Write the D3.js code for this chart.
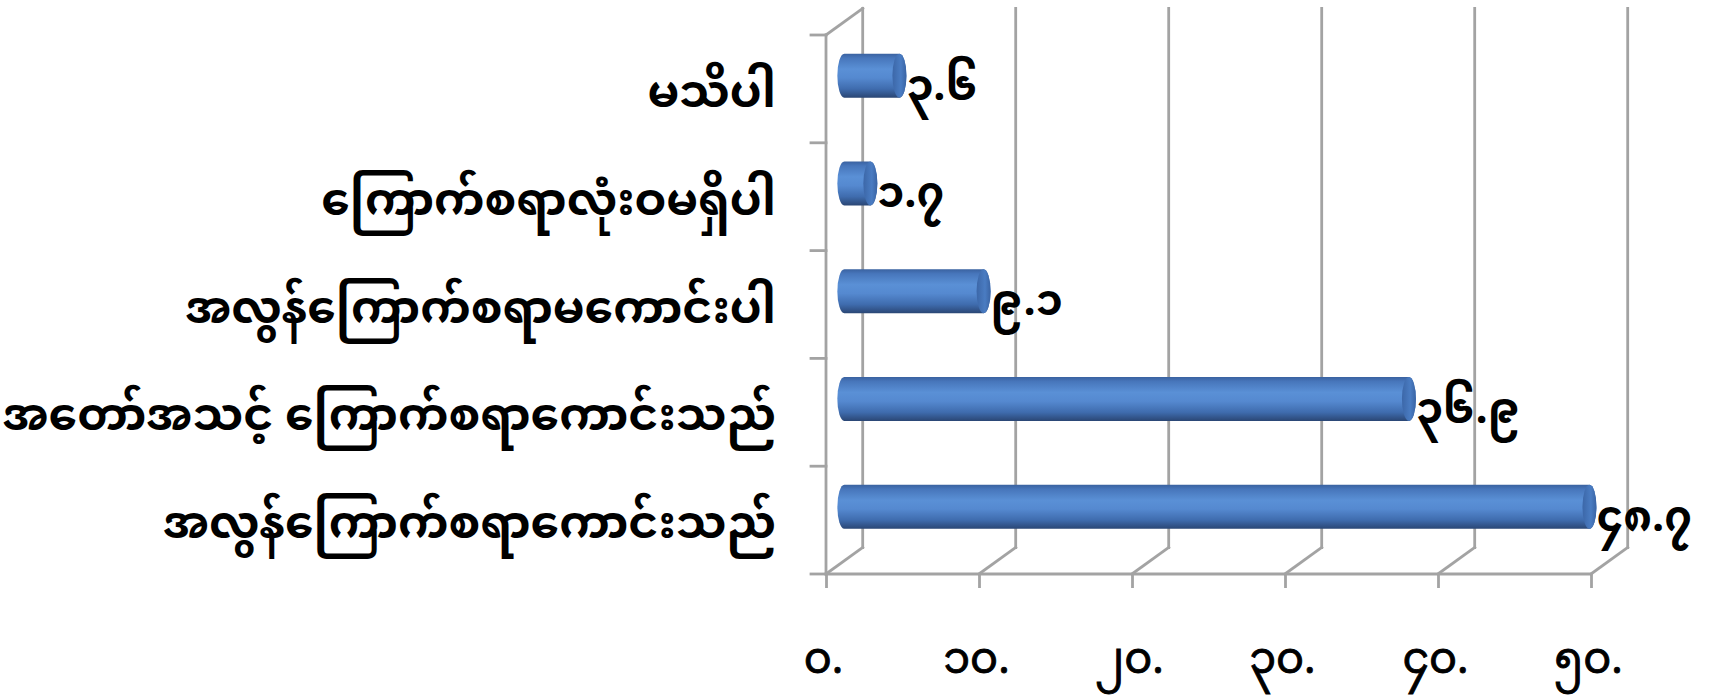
<!DOCTYPE html>
<html>
<head>
<meta charset="utf-8">
<script src="https://cdn.jsdelivr.net/npm/d3@7"></script>
<style>
  html, body { margin: 0; padding: 0; background: #ffffff; }
  svg { display: block; }
  .mm { font-family: "Noto Sans Myanmar", "Padauk", "Myanmar Text", "Myanmar3", "Noto Sans", sans-serif; }
</style>
</head>
<body>
<svg id="chart" width="1712" height="698"></svg>
<script>
// Survey responses (percent), listed top to bottom
const categories = [
  "မသိပါ",
  "ကြောက်စရာလုံးဝမရှိပါ",
  "အလွန်ကြောက်စရာမကောင်းပါ",
  "အတော်အသင့် ကြောက်စရာကောင်းသည်",
  "အလွန်ကြောက်စရာကောင်းသည်"
];
const values = [3.6, 1.7, 9.1, 36.9, 48.7];
const tickValues = [0, 10, 20, 30, 40, 50];

// Burmese digits for labels
const mmDigits = "၀၁၂၃၄၅၆၇၈၉";
const toMM = s => String(s).replace(/[0-9]/g, d => mmDigits[+d]);

const svg = d3.select("#chart");

// Oblique 3D frame: front plane plus a depth offset toward the back wall
const DX = 36.7, DY = -26.5;
const x = d3.scaleLinear().domain([0, 50]).range([826, 1591]);
const y = d3.scaleBand().domain(categories).range([35, 574]).paddingInner(0).paddingOuter(0);
const yTop = 35, yBottom = 574;

const gridColor = "#a3a3a3";
const gridW = 2.8;
const defs = svg.append("defs");

const bodyGrad = defs.append("linearGradient")
  .attr("id", "cylBody").attr("x1", 0).attr("y1", 0).attr("x2", 0).attr("y2", 1);
[["0%", "#3a62a0"], ["10%", "#4776bb"], ["35%", "#5a90d6"], ["55%", "#5589d0"], ["80%", "#3f6cae"], ["100%", "#2a4674"]]
  .forEach(([o, c]) => bodyGrad.append("stop").attr("offset", o).attr("stop-color", c));

const capGrad = defs.append("linearGradient")
  .attr("id", "cylCap").attr("x1", 0).attr("y1", 0).attr("x2", 1).attr("y2", 0);
[["0%", "#3c67a8"], ["60%", "#4a7cc2"], ["100%", "#3a64a4"]]
  .forEach(([o, c]) => capGrad.append("stop").attr("offset", o).attr("stop-color", c));

const frame = svg.append("g")
  .attr("stroke", gridColor).attr("stroke-width", gridW).attr("fill", "none")
  .attr("stroke-linecap", "square");

// Back wall vertical gridlines
frame.selectAll("line.grid").data(tickValues).join("line")
  .attr("class", "grid")
  .attr("x1", d => x(d) + DX).attr("x2", d => x(d) + DX)
  .attr("y1", yTop + DY).attr("y2", yBottom + DY);

// Floor: depth lines and front edge
frame.selectAll("line.floor").data(tickValues).join("line")
  .attr("class", "floor")
  .attr("x1", d => x(d)).attr("y1", yBottom)
  .attr("x2", d => x(d) + DX).attr("y2", yBottom + DY);
frame.append("line")
  .attr("x1", x(0)).attr("x2", x(50)).attr("y1", yBottom).attr("y2", yBottom);

// Left wall: front edge and top edge
frame.append("line")
  .attr("x1", x(0)).attr("x2", x(0)).attr("y1", yTop).attr("y2", yBottom);
frame.append("line")
  .attr("x1", x(0)).attr("y1", yTop).attr("x2", x(0) + DX).attr("y2", yTop + DY);

// Category tick marks at band boundaries
const bounds = categories.map(c => y(c)).concat([y.range()[1]]);
frame.selectAll("line.ctick").data(bounds).join("line")
  .attr("class", "ctick")
  .attr("x1", x(0) - 15).attr("x2", x(0)).attr("y1", d => d).attr("y2", d => d);

// Value axis ticks and labels along the front floor edge
const axis = d3.axisBottom(x)
  .tickValues(tickValues)
  .tickSize(14)
  .tickPadding(54)
  .tickFormat(d => toMM(d) + ".");
const axisG = svg.append("g")
  .attr("transform", `translate(0,${yBottom})`)
  .call(axis);
axisG.select(".domain").remove();
axisG.selectAll(".tick line").attr("stroke", gridColor).attr("stroke-width", gridW);
axisG.selectAll(".tick text")
  .attr("class", "mm")
  .attr("font-size", 43)
  .attr("fill", "#000")
  .attr("stroke", "#000")
  .attr("stroke-width", 0.9)
  .attr("dx", -3);

// Cylinders at mid depth
const barH = 44, capRx = 7;
const bars = svg.append("g");
const rows = categories.map((c, i) => ({ c, v: values[i] }));
const cy = d => y(d.c) + y.bandwidth() / 2 + DY / 2;
const x0 = x(0) + DX / 2;
const x1 = d => x(d.v) + DX / 2;

bars.selectAll("path.body").data(rows).join("path")
  .attr("class", "body")
  .attr("fill", "url(#cylBody)")
  .attr("d", d => {
    const t = cy(d) - barH / 2, b = cy(d) + barH / 2, r = barH / 2;
    return `M${x0},${t} L${x1(d)},${t} A${capRx},${r} 0 0 1 ${x1(d)},${b} L${x0},${b} A${capRx},${r} 0 0 1 ${x0},${t} Z`;
  });

bars.selectAll("ellipse.cap").data(rows).join("ellipse")
  .attr("class", "cap")
  .attr("cx", d => x1(d)).attr("cy", d => cy(d))
  .attr("rx", capRx).attr("ry", barH / 2)
  .attr("fill", "url(#cylCap)");

// Value labels to the right of each cylinder
svg.append("g").selectAll("text").data(rows).join("text")
  .attr("class", "mm")
  .attr("x", d => x1(d) + capRx)
  .attr("y", d => cy(d) + 24)
  .attr("font-size", 43)
  .attr("font-weight", "bold")
  .attr("fill", "#000")
  .text(d => toMM(d.v.toFixed(1)));

// Category labels
svg.append("g").selectAll("text").data(categories).join("text")
  .attr("class", "mm")
  .attr("x", 776)
  .attr("y", d => y(d) + y.bandwidth() / 2 + 18)
  .attr("text-anchor", "end")
  .attr("font-size", 45.5)
  .attr("font-weight", "bold")
  .attr("fill", "#000")
  .text(d => d);
</script>
</body>
</html>
